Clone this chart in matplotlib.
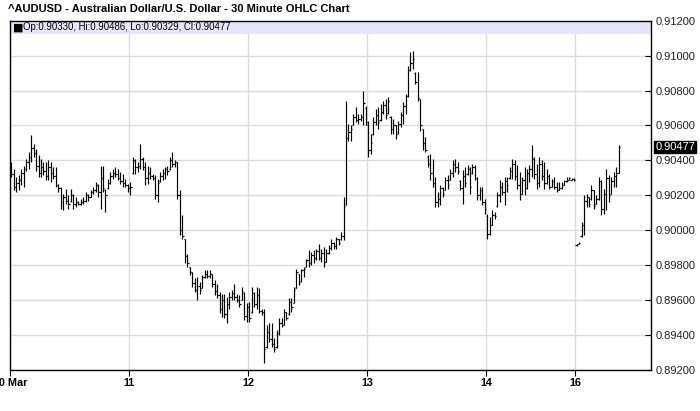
import numpy as np
import matplotlib
matplotlib.use("Agg")
import matplotlib.pyplot as plt
from matplotlib.patches import Rectangle

# 30 minute bars, prices in pips (x 1e-4)
day_labels = ["10 Mar", "11", "12", "13", "14", "16"]
bars_per_day = [48, 48, 48, 48, 36, 18]

highs = [
    # 10
    9039, 9035, 9030.5, 9031.5, 9035, 9037, 9041, 9045, 9054.7, 9049.5,
    9046.7, 9043, 9041, 9039, 9039, 9040, 9039, 9036, 9036, 9026.7,
    9024.8, 9021, 9023.8, 9020, 9023.8, 9021, 9019, 9017, 9018, 9019,
    9022, 9021, 9022.9, 9024.8, 9027.6, 9026.7, 9037, 9037, 9023.8, 9029.5,
    9033.3, 9035, 9036, 9035, 9033.3, 9032.4, 9029.5, 9026.7,
    # 11
    9027.6, 9042, 9041, 9039, 9049.5, 9042, 9039, 9037, 9036, 9032.4,
    9031.4, 9029.5, 9033.3, 9035.2, 9036, 9037, 9042, 9045, 9040, 9039,
    9022.9, 9008.6, 8995.2, 8986.7, 8979, 8976.2, 8972.4, 8973.3, 8970.5, 8974.3,
    8977.1, 8977.1, 8977.1, 8975.2, 8971.4, 8969.5, 8964.8, 8963.8, 8963.8, 8961.9,
    8964.8, 8965.7, 8969.5, 8963.8, 8962.9, 8967.6, 8964.8, 8958.1,
    # 12
    8959, 8967.6, 8964.8, 8967.6, 8966.7, 8954.8, 8954.8, 8945.7, 8946.7, 8946.7,
    8938.1, 8943, 8949.5, 8949.5, 8955.2, 8953.3, 8961, 8961, 8967.6, 8978.1,
    8975.2, 8978.1, 8979, 8983.8, 8988.6, 8987.6, 8988.6, 8989.5, 8992.4, 8989.5,
    8990.5, 8989.5, 8991.4, 8995.2, 8993.3, 8996.2, 8995.2, 8999, 9019, 9074.3,
    9061, 9060, 9066.7, 9070.5, 9066.7, 9066.7, 9080, 9071.4,
    # 13
    9062.8, 9055.2, 9064.8, 9069.5, 9070.5, 9072.4, 9074.3, 9075.2, 9076.2, 9065.7,
    9063.8, 9060, 9062.8, 9067.6, 9073.3, 9078.1, 9094.3, 9101.9, 9102.9, 9090.5,
    9090.5, 9075.2, 9058.1, 9053.3, 9042.9, 9043.8, 9041, 9030.5, 9021.9, 9025.7,
    9024.8, 9030.5, 9031.4, 9035.2, 9040, 9041, 9039, 9028.6, 9034.3, 9036.2,
    9037.1, 9036.2, 9038.1, 9037.1, 9030.5, 9024.8, 9024.8, 9018.1,
    # 14
    9009.5, 9007.6, 9011.4, 9010.5, 9021.9, 9028.6, 9027.6, 9030.5, 9030.5, 9036.2,
    9041, 9040, 9037.1, 9033.3, 9030.5, 9036.2, 9035.2, 9037.1, 9048.6, 9041.9,
    9038.1, 9041.9, 9040, 9039, 9035.2, 9032.4, 9029.5, 9030.5, 9027.6, 9027.6,
    9027.6, 9028.6, 9030.5, 9030.5, 9030, 9030,
    # 16
    8992.4, 8993.5, 9004.8, 9020, 9021, 9019, 9025.7, 9022.9, 9020, 9030.5,
    9028.6, 9023.8, 9035.2, 9031.4, 9030.5, 9033.3, 9036.2, 9048.6,
]

lows = [
    # 10
    9030.5, 9023, 9022, 9023, 9025.7, 9024.8, 9034, 9035, 9039, 9042,
    9034, 9030.5, 9030.5, 9031.5, 9028.6, 9028.6, 9027.6, 9029.5, 9024.8, 9022,
    9012.4, 9011.4, 9015.2, 9012.4, 9016.2, 9012.4, 9013.3, 9014.3, 9014.3, 9015.2,
    9016.2, 9017, 9019, 9021, 9022, 9019, 9012.4, 9022, 9010.5, 9023.8,
    9026.7, 9029.5, 9030.5, 9028.6, 9026.7, 9024.8, 9024.8, 9022,
    # 11
    9020, 9032.4, 9032.4, 9033.3, 9035.2, 9034.3, 9026, 9026.7, 9029.5, 9028.6,
    9018.1, 9016.2, 9027.6, 9028.6, 9029.5, 9031.4, 9034.3, 9036.2, 9036.2, 9018.1,
    8997.1, 8995.2, 8981, 8979, 8974.3, 8967.6, 8964.8, 8960, 8963.8, 8966.7,
    8972.4, 8972.4, 8972.4, 8967.6, 8962.9, 8961, 8952.4, 8950.5, 8949.5, 8946.7,
    8955.2, 8960, 8960, 8959, 8956.2, 8960, 8948.6, 8947.6,
    # 12
    8947.6, 8952.4, 8956.2, 8955.2, 8952.4, 8951.4, 8923.8, 8932.4, 8936.2, 8933.3,
    8930.5, 8932.4, 8940, 8944.8, 8945.7, 8948.6, 8951.4, 8953.3, 8958.1, 8966.7,
    8968.6, 8970.5, 8973.3, 8979, 8979, 8980, 8981, 8982.9, 8982.9, 8981.9,
    8979, 8981.9, 8986.7, 8988.6, 8989.5, 8989.5, 8991.4, 8994.3, 8994.3, 9014.3,
    9051.4, 9051.4, 9060, 9061.9, 9061, 9062.8, 9060, 9060,
    # 13
    9041.9, 9043.8, 9054.3, 9060, 9058.1, 9062.8, 9066.7, 9063.8, 9066.7, 9055.2,
    9055.2, 9052.4, 9055.2, 9059, 9061, 9066.7, 9076.2, 9091.4, 9092.4, 9083.8,
    9074.3, 9057.1, 9045.7, 9044.8, 9036.2, 9028.6, 9024.8, 9013.3, 9013.3, 9014.3,
    9019, 9022.9, 9023.8, 9028.6, 9030.5, 9033.3, 9032.4, 9022.9, 9015.2, 9024.8,
    9031.4, 9021, 9032.4, 9028.6, 9017.1, 9017.1, 9014.3, 9009.5,
    # 14
    8995.2, 8997.1, 9002.9, 9006.7, 9013.3, 9016.2, 9020, 9014.3, 9021.9, 9029.5,
    9029.5, 9028.6, 9023.8, 9017.1, 9021, 9020, 9023.8, 9027.6, 9030.5, 9029.5,
    9023.8, 9024.8, 9028.6, 9023.8, 9026.7, 9023.8, 9024.8, 9023.8, 9021.9, 9022.9,
    9023.8, 9025.7, 9027.6, 9028.6, 9028.6, 9028,
    # 16
    8991.2, 8992, 8996.2, 8997.1, 9013.3, 9013.3, 9017.1, 9012.4, 9015.2, 9017.1,
    9008.6, 9009.5, 9011.4, 9016.2, 9021, 9024.8, 9024.8, 9032.9,
]

opens = [
    # 10
    9038, 9032, 9025, 9027, 9029, 9033, 9035, 9039, 9042, 9047,
    9044, 9037, 9033, 9036, 9034, 9031, 9036, 9033, 9031, 9026,
    9024, 9016, 9019, 9017, 9017, 9020, 9015, 9016, 9015, 9016,
    9017, 9020, 9019, 9022, 9023, 9026, 9022, 9030, 9023, 9024,
    9027, 9031, 9033, 9032, 9030, 9028, 9027, 9026,
    # 11
    9024, 9033, 9040, 9036, 9037, 9041, 9036, 9030, 9033, 9031,
    9030, 9020, 9028, 9031, 9033, 9035, 9035, 9040, 9038, 9039,
    9020, 9000, 8995, 8985, 8979, 8976, 8970, 8966, 8968, 8967,
    8973, 8975, 8974, 8975, 8969, 8965, 8963, 8955, 8960, 8952,
    8958, 8962, 8964, 8962, 8960, 8960, 8964, 8951,
    # 12
    8956, 8953, 8964, 8958, 8963, 8954, 8953, 8933, 8942, 8938,
    8935, 8933, 8941, 8947, 8946, 8953, 8952, 8959, 8958.5, 8967,
    8975, 8971, 8977, 8979, 8983, 8981, 8986, 8984, 8988, 8984,
    8987, 8982, 8987, 8990, 8993, 8991, 8995, 8995, 8997, 9015,
    9053, 9056, 9060, 9065, 9063, 9064, 9065, 9070,
    # 13
    9060, 9046, 9055, 9062, 9066, 9063, 9068, 9072, 9067, 9065,
    9058, 9060, 9056, 9061, 9066, 9071, 9077, 9092, 9096, 9090,
    9085, 9075, 9058, 9050, 9042, 9038, 9033, 9027, 9016, 9018,
    9024, 9023, 9029, 9029, 9033, 9038, 9036, 9028, 9024, 9031,
    9032, 9035, 9033, 9036, 9030, 9020, 9023, 9016,
    # 14
    9008, 8998, 9003, 9009, 9014, 9020, 9025, 9022, 9028, 9030,
    9034, 9038, 9031, 9026, 9021, 9029, 9024, 9033, 9035, 9041,
    9032, 9027, 9038, 9031, 9027, 9031, 9025, 9028, 9025, 9023,
    9024, 9026, 9028, 9029, 9029, 9029.5,
    # 16
    8991.5, 8992, 8997, 9003, 9017, 9019, 9018, 9023, 9015, 9018,
    9028, 9012, 9021, 9030, 9021, 9028, 9031, 9033,
]

closes = [
    # 10
    9032, 9025, 9027, 9029, 9033, 9035, 9039, 9042, 9047, 9044,
    9037, 9033, 9036, 9034, 9031, 9036, 9033, 9031, 9026, 9024,
    9016, 9019, 9017, 9015, 9020, 9015, 9016, 9015, 9016, 9017,
    9020, 9019, 9022, 9023, 9026, 9022, 9030, 9024, 9020, 9027,
    9031, 9033, 9032, 9030, 9028, 9027, 9026, 9024,
    # 11
    9025, 9040, 9036, 9037, 9041, 9036, 9030, 9033, 9031, 9030,
    9020, 9027, 9031, 9033, 9035, 9034, 9040, 9038, 9039, 9020,
    9000, 8997, 8985, 8981, 8976, 8970, 8966, 8968, 8966, 8973,
    8975, 8974, 8975, 8969, 8965, 8963, 8955, 8960, 8952, 8958,
    8962, 8964, 8962, 8960, 8958, 8965, 8951, 8956,
    # 12
    8950, 8964, 8958, 8963, 8954, 8953, 8932, 8942, 8938, 8935,
    8932, 8941, 8947, 8946, 8953, 8950, 8959, 8956, 8966, 8976,
    8970, 8977, 8978, 8983, 8981, 8986, 8984, 8988, 8984, 8987,
    8982, 8987, 8990, 8993, 8991, 8995, 8993, 8997, 9014, 9053,
    9056, 9058, 9065, 9063, 9064, 9065, 9073, 9062,
    # 13
    9046, 9050, 9062, 9066, 9062, 9068, 9072, 9066, 9074, 9058,
    9060, 9055, 9061, 9066, 9071, 9077, 9092, 9096, 9098, 9085,
    9076, 9060, 9050, 9046, 9038, 9033, 9027, 9016, 9018, 9024,
    9021, 9029, 9026, 9033, 9038, 9036, 9034, 9024, 9031, 9027,
    9035, 9025, 9036, 9030, 9020, 9023, 9016, 9012,
    # 14
    8998, 9003, 9009, 9008, 9020, 9025, 9022, 9028, 9026, 9034,
    9038, 9031, 9026, 9021, 9029, 9024, 9033, 9035, 9041, 9032,
    9027, 9038, 9031, 9027, 9031, 9025, 9028, 9025, 9023, 9024,
    9026, 9028, 9029, 9030, 9029.5, 9029,
    # 16
    8992, 8993, 9003, 9017, 9019, 9015, 9023, 9014, 9018, 9028,
    9012, 9021, 9030, 9020, 9028, 9031, 9033, 9047.7,
]

hi = np.array(highs) / 1e4
lo = np.array(lows) / 1e4
op = np.array(opens) / 1e4
cl = np.array(closes) / 1e4
x = np.arange(len(hi)) + 0.5
day_ticks = np.concatenate([[0], np.cumsum(bars_per_day)[:-1]])

W, H = 700, 411
fig = plt.figure(figsize=(W / 100, H / 100), dpi=100)
ax = fig.add_axes([10 / W, 41 / H, 641 / W, 349.3 / H])

# OHLC bars
ax.vlines(x, lo, hi, color="black", lw=0.85, zorder=3)
ax.hlines(op, x - 0.5, x, color="black", lw=0.85, zorder=3)
ax.hlines(cl, x, x + 0.5, color="black", lw=0.85, zorder=3)

ax.set_xlim(0, 258.5)
ax.set_ylim(0.892, 0.912)

yt = np.arange(0.892, 0.91201, 0.002)
ax.set_yticks(yt)
ax.set_yticklabels([f"{v:.5f}" for v in yt], fontsize=8, color="#222222",
                   family="Liberation Sans")
ax.yaxis.tick_right()
ax.tick_params(axis="y", direction="in", length=4, width=0.8, pad=3)

ax.set_xticks(day_ticks)
ax.set_xticklabels(day_labels, fontsize=7.8, fontweight="bold",
                   family=["Liberation Sans Narrow", "Liberation Sans"])
ax.tick_params(axis="x", direction="out", length=4, width=0.8, pad=2)

ax.grid(True, color="#dcdcdc", lw=1)
ax.set_axisbelow(True)
for s in ax.spines.values():
    s.set_color("black")
    s.set_linewidth(1)

# header band with last bar values
band_h = 13 / 349.3
ax.add_patch(Rectangle((0, 1 - band_h), 1, band_h, transform=ax.transAxes,
                       facecolor="#e6e6fa", edgecolor="none", zorder=2))
ax.text(3 / 641, 1 - band_h / 2, "\u25A0", transform=ax.transAxes, fontsize=8,
        va="center", ha="left", family=["DejaVu Sans"], zorder=4)
ax.text(13 / 641, 1 - band_h / 2,
        f"Op:{op[-1]:.5f}, Hi:{hi[-1]:.5f}, Lo:{lo[-1]:.5f}, Cl:{cl[-1]:.5f}",
        transform=ax.transAxes, fontsize=6.9, va="center", ha="left",
        family="Liberation Sans", zorder=4)

# last price marker
ax.annotate(f"{cl[-1]:.5f}", xy=(1, cl[-1]), xycoords=("axes fraction", "data"),
            xytext=(3, 0), textcoords="offset points", fontsize=8, color="white",
            va="center", ha="left", family="Liberation Sans",
            bbox=dict(boxstyle="square,pad=0.12", fc="black", ec="black"),
            annotation_clip=False)

fig.text(8 / W, 1 - 9 / H,
         "^AUDUSD - Australian Dollar/U.S. Dollar - 30 Minute OHLC Chart",
         fontsize=8, fontweight="bold", va="center", ha="left",
         family="Liberation Sans")

fig.savefig("out.png", dpi=100)
